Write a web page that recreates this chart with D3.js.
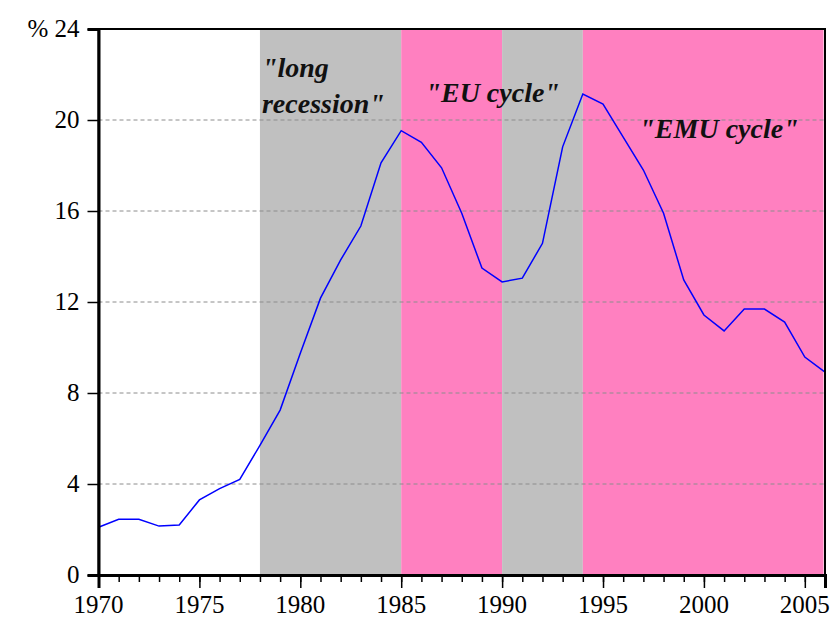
<!DOCTYPE html>
<html>
  <head>
    <meta charset="utf-8" />
    <script src="https://d3js.org/d3.v7.min.js"></script>
  </head>
  <body style="margin: 0">
    <script type="text/javascript">
      const w = 832;
      const h = 617;
      const margin = { top: 29, right: 7, bottom: 42, left: 98.5 };
      const fontName = 'Times New Roman';

      // yearly values
      const years = [
        1970, 1971, 1972, 1973, 1974, 1975, 1976, 1977, 1978, 1979,
        1980, 1981, 1982, 1983, 1984, 1985, 1986, 1987, 1988, 1989,
        1990, 1991, 1992, 1993, 1994, 1995, 1996, 1997, 1998, 1999,
        2000, 2001, 2002, 2003, 2004, 2005, 2006,
      ];
      const rate = [
        2.1, 2.45, 2.45, 2.15, 2.2, 3.3, 3.8, 4.2, 5.7, 7.25,
        9.75, 12.17, 13.85, 15.34, 18.12, 19.53, 19.02, 17.9, 15.9, 13.49,
        12.88, 13.05, 14.58, 18.82, 21.14, 20.7, 19.25, 17.8, 15.9, 12.97,
        11.43, 10.73, 11.69, 11.69, 11.12, 9.58, 8.92,
      ];

      // shaded periods
      const bandStart = [1978, 1985, 1990, 1994];
      const bandEnd = [1985, 1990, 1994, 2006];
      const bandColor = ['#c0c0c0', '#ff80c0', '#c0c0c0', '#ff80c0'];

      const yTicks = [0, 4, 8, 12, 16, 20, 24];
      const xMajor = [1970, 1975, 1980, 1985, 1990, 1995, 2000, 2005];

      // annotations: text lines and the year/value where they sit
      const noteLines = [['"long', 'recession"'], ['"EU cycle"'], ['"EMU cycle"']];
      const noteYear = [1978.1, 1986.2, 1996.8];
      const noteValue = [21.9, 20.8, 19.2];

      const x = d3.scaleLinear().domain([1970, 2006]).range([margin.left, w - margin.right]);
      const y = d3.scaleLinear().domain([0, 24]).range([h - margin.bottom, margin.top]);

      const svg = d3.select('body').append('svg').attr('width', w).attr('height', h);

      // shading
      svg
        .selectAll('rect.band')
        .data(bandStart)
        .enter()
        .append('rect')
        .attr('class', 'band')
        .attr('x', (d) => x(d))
        .attr('y', y(24))
        .attr('width', (d, i) => x(bandEnd[i]) - x(d) - (i === 3 ? 1.5 : 0))
        .attr('height', y(0) - y(24))
        .attr('fill', (d, i) => bandColor[i]);

      // dashed grid
      svg
        .selectAll('line.grid')
        .data(yTicks.filter((d) => d > 0 && d < 24))
        .enter()
        .append('line')
        .attr('x1', x(1970))
        .attr('x2', x(2006))
        .attr('y1', (d) => y(d))
        .attr('y2', (d) => y(d))
        .attr('stroke', '#8c8c8c')
        .attr('stroke-width', 1)
        .attr('stroke-dasharray', '4,3');

      // notes
      noteLines.forEach((lines, i) => {
        lines.forEach((s, j) => {
          svg
            .append('text')
            .attr('x', x(noteYear[i]))
            .attr('y', y(noteValue[i]) + j * 36)
            .style('font-family', fontName)
            .style('font-size', '28px')
            .style('font-weight', 'bold')
            .style('font-style', 'italic')
            .attr('fill', '#111')
            .text(s);
        });
      });

      // the series
      const line = d3
        .line()
        .x((d, i) => x(years[i]))
        .y((d) => y(d));

      svg
        .append('path')
        .datum(rate)
        .attr('d', line)
        .attr('fill', 'none')
        .attr('stroke', '#0000ff')
        .attr('stroke-width', 1.5);

      // frame
      svg
        .append('rect')
        .attr('x', x(1970))
        .attr('y', y(24))
        .attr('width', x(2006) - x(1970))
        .attr('height', y(0) - y(24))
        .attr('fill', 'none')
        .attr('stroke', '#000')
        .attr('stroke-width', 2);

      // y axis: ticks from the axis, labels drawn as plain text
      const yAxis = svg
        .append('g')
        .attr('transform', `translate(${x(1970)},0)`)
        .call(d3.axisLeft(y).tickValues(yTicks).tickSize(11).tickFormat(''));
      yAxis.select('.domain').attr('stroke-width', 3);
      yAxis.selectAll('.tick line').attr('stroke-width', 1.5);

      svg
        .selectAll('text.ylab')
        .data(yTicks)
        .enter()
        .append('text')
        .attr('class', 'ylab')
        .attr('x', x(1970) - 19)
        .attr('y', (d) => y(d) + 8)
        .attr('text-anchor', 'end')
        .style('font-family', fontName)
        .style('font-size', '25px')
        .attr('fill', '#000')
        .text((d) => (d === 24 ? '% 24' : d));

      // x axis, yearly minor ticks
      const xAxisMinor = svg
        .append('g')
        .attr('transform', `translate(0,${y(0)})`)
        .call(d3.axisBottom(x).tickValues(years).tickSize(7).tickFormat(''));
      xAxisMinor.select('.domain').remove();
      xAxisMinor.selectAll('.tick line').attr('stroke-width', 1.5);

      const xAxis = svg
        .append('g')
        .attr('transform', `translate(0,${y(0)})`)
        .call(d3.axisBottom(x).tickValues(xMajor).tickSize(13).tickFormat(''));
      xAxis.select('.domain').attr('stroke-width', 3);
      xAxis.selectAll('.tick line').attr('stroke-width', 1.5);

      svg
        .selectAll('text.xlab')
        .data(xMajor)
        .enter()
        .append('text')
        .attr('class', 'xlab')
        .attr('x', (d) => x(d))
        .attr('y', y(0) + 38)
        .attr('text-anchor', 'middle')
        .style('font-family', fontName)
        .style('font-size', '25px')
        .attr('fill', '#000')
        .text((d) => d);
    </script>
  </body>
</html>
